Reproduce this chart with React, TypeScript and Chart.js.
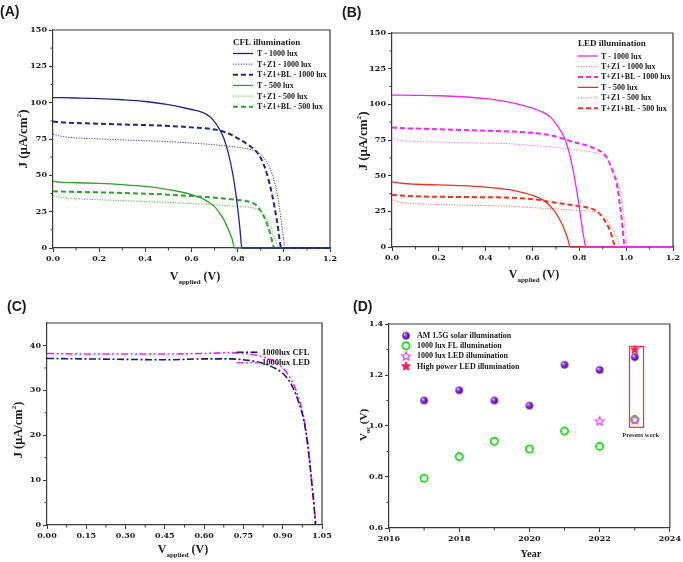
import React, { useEffect, useRef } from 'react';
import { Chart, registerables } from 'chart.js';
Chart.register(...registerables);

const SERIF = '"Liberation Serif", "Times New Roman", serif';
const TICKFONT = '"DejaVu Serif", "Liberation Serif", serif';
const SANS = '"Liberation Sans", Arial, sans-serif';
const AXIS = '#3a3a3a';
const TEXT = '#1a1a1a';

type Pt = [number, number];

// ---------- Panel A : CFL illumination (V, J) ----------
const A_T_1000: Pt[] = [[0,103.5],[0.1,103.2],[0.2,102.8],[0.3,102],[0.4,100.8],[0.5,98.6],[0.6,95.3],[0.65,93.2],[0.68,90.3],[0.7,86.8],[0.72,82],[0.74,75.5],[0.76,65],[0.78,50],[0.795,34],[0.81,13],[0.818,0],[1.2,0]];
const A_Z1_1000: Pt[] = [[0,78.5],[0.03,77],[0.1,75.8],[0.2,75],[0.3,74.4],[0.4,73.8],[0.5,73.2],[0.6,72.2],[0.7,71],[0.8,69.2],[0.86,67.5],[0.9,64.5],[0.92,60.5],[0.94,55],[0.96,45],[0.975,34],[0.99,17],[1.0,5],[1.005,0],[1.2,0]];
const A_BL_1000: Pt[] = [[0,87],[0.05,86.3],[0.1,86],[0.2,85.5],[0.3,85],[0.4,84.6],[0.5,84],[0.6,83],[0.7,81.5],[0.75,79.5],[0.8,75.5],[0.85,70.5],[0.88,66.5],[0.9,62],[0.925,52],[0.95,36],[0.97,19],[0.99,0],[1.2,0]];
const A_T_500: Pt[] = [[0,46],[0.03,45.3],[0.1,44.9],[0.2,44.4],[0.3,43.6],[0.4,42.4],[0.5,40.2],[0.55,38.7],[0.6,36.7],[0.65,33.8],[0.68,31],[0.7,28.5],[0.72,24.5],[0.74,19.5],[0.76,12.5],[0.775,6.5],[0.788,0],[1.2,0]];
const A_Z1_500: Pt[] = [[0,36],[0.03,35],[0.1,34],[0.2,33.2],[0.3,32.6],[0.4,32],[0.5,31.4],[0.6,30.6],[0.7,29.7],[0.8,28.6],[0.88,27],[0.91,23.5],[0.93,18.5],[0.95,11.5],[0.965,4.5],[0.975,0],[1.2,0]];
const A_BL_500: Pt[] = [[0,39],[0.1,38.6],[0.2,38.3],[0.3,37.9],[0.4,37.4],[0.5,36.7],[0.6,35.7],[0.7,34.6],[0.8,33.1],[0.85,31.8],[0.88,29.5],[0.9,25.5],[0.92,19.5],[0.94,10.5],[0.96,0],[1.2,0]];

// ---------- Panel B : LED illumination (V, J) ----------
const B_T_1000: Pt[] = [[0,106.5],[0.1,106.3],[0.2,106],[0.3,105.3],[0.4,104],[0.5,101.5],[0.6,97.3],[0.65,94],[0.68,90.5],[0.7,86.5],[0.72,81.5],[0.74,75],[0.76,64],[0.78,48],[0.8,28],[0.81,16],[0.822,4],[0.828,0],[1.2,0]];
const B_Z1_1000: Pt[] = [[0,76.5],[0.03,75],[0.1,74],[0.2,73.5],[0.3,73.1],[0.4,72.8],[0.5,72.4],[0.6,71.2],[0.7,69.8],[0.8,67.8],[0.88,65.5],[0.91,63],[0.93,59],[0.95,52],[0.975,38],[0.99,21],[1.0,7],[1.005,0],[1.2,0]];
const B_BL_1000: Pt[] = [[0,83.7],[0.05,83.2],[0.1,83],[0.2,82.5],[0.3,82],[0.4,81.5],[0.5,81],[0.6,80],[0.7,77.5],[0.75,74.8],[0.8,72.5],[0.85,70.2],[0.88,68],[0.9,66],[0.92,62],[0.94,54],[0.96,44],[0.98,21],[0.995,0],[1.2,0]];
const B_T_500: Pt[] = [[0,45.7],[0.05,44.5],[0.1,44],[0.2,43.5],[0.3,43],[0.4,42],[0.5,40.2],[0.55,38.5],[0.6,36.2],[0.65,32.5],[0.69,26],[0.71,21],[0.73,14.5],[0.75,6],[0.761,0],[1.2,0]];
const B_Z1_500: Pt[] = [[0,33],[0.03,31.5],[0.1,30.5],[0.2,29.8],[0.3,29.3],[0.4,29],[0.5,28.6],[0.6,27.6],[0.7,26.6],[0.8,25.5],[0.88,24],[0.91,20.5],[0.93,16],[0.95,10],[0.965,4],[0.975,0],[1.2,0]];
const B_BL_500: Pt[] = [[0,36.5],[0.1,35.5],[0.2,35.2],[0.3,35],[0.4,34.9],[0.5,34.6],[0.6,33.5],[0.7,31],[0.8,28.6],[0.85,27],[0.88,24.5],[0.9,20.5],[0.93,12],[0.957,0],[1.2,0]];

// ---------- Panel C : 1000 lux comparison (V, J) ----------
const C_CFL: Pt[] = [[0,37.1],[0.15,37],[0.3,36.9],[0.45,36.8],[0.6,37],[0.7,37],[0.75,36.8],[0.8,36.4],[0.85,35.5],[0.88,34.6],[0.9,33.8],[0.92,32.5],[0.94,30.5],[0.96,27.5],[0.98,23.5],[0.995,18],[1.01,10],[1.02,4],[1.025,0]];
const C_LED: Pt[] = [[0,38.2],[0.15,38.1],[0.3,38.1],[0.45,38.1],[0.6,38.2],[0.7,38.4],[0.75,38.2],[0.8,37.8],[0.85,36.9],[0.88,36],[0.9,35],[0.92,33.6],[0.94,31.5],[0.96,28.5],[0.98,24],[0.995,18.5],[1.01,10],[1.02,4],[1.027,0]];

// ---------- Panel D : Voc vs year ----------
const D_SOLAR_YEARS = [2017, 2018, 2019, 2020, 2021, 2022, 2023];
const D_SOLAR = [1.10, 1.14, 1.10, 1.08, 1.24, 1.22, 1.27];
const D_FL_YEARS = [2017, 2018, 2019, 2020, 2021, 2022, 2023];
const D_FL = [0.795, 0.88, 0.94, 0.91, 0.98, 0.92, 1.025];
const D_LED_YEARS = [2022, 2023];
const D_LED = [1.02, 1.025];
const D_HP_YEARS = [2023];
const D_HP = [1.30];
const D_BOX = { x0: 2022.85, x1: 2023.25, y0: 0.995, y1: 1.312 };
const D_NOTE = { x: 2023.17, y: 0.963, text: 'Present work' };

// ---------- tick lists ----------
const AB_X_TICKS = [0, 0.2, 0.4, 0.6, 0.8, 1.0, 1.2];
const AB_X_MINOR = [0.1, 0.3, 0.5, 0.7, 0.9, 1.1];
const AB_Y_TICKS = [0, 25, 50, 75, 100, 125, 150];
const AB_Y_MINOR = [12.5, 37.5, 62.5, 87.5, 112.5, 137.5];
const C_X_TICKS = [0, 0.15, 0.3, 0.45, 0.6, 0.75, 0.9, 1.05];
const C_X_MINOR = [0.075, 0.225, 0.375, 0.525, 0.675, 0.825, 0.975];
const C_Y_TICKS = [0, 10, 20, 30, 40];
const C_Y_MINOR = [5, 15, 25, 35];
const D_X_TICKS = [2016, 2018, 2020, 2022, 2024];
const D_X_MINOR = [2017, 2019, 2021, 2023];
const D_Y_TICKS = [0.6, 0.8, 1.0, 1.2, 1.4];
const D_Y_MINOR = [0.7, 0.9, 1.1, 1.3];

type Part = { t: string; s: number; dy?: number };

function drawParts(ctx: CanvasRenderingContext2D, parts: Part[], cx: number, y: number) {
  let total = 0;
  const widths = parts.map((p) => {
    ctx.font = `bold ${p.s}px ${SERIF}`;
    const w = ctx.measureText(p.t).width;
    total += w;
    return w;
  });
  let x = cx - total / 2;
  ctx.textAlign = 'left';
  ctx.textBaseline = 'alphabetic';
  parts.forEach((p, i) => {
    ctx.font = `bold ${p.s}px ${SERIF}`;
    ctx.fillText(p.t, x, y + (p.dy || 0));
    x += widths[i];
  });
}

interface Decor {
  label: string; labelX: number; labelY: number;
  xTitle: Part[]; xTitleX: number; xTitleY: number;
  yTitle: Part[]; yTitleX: number; yTitleY: number;
  xMinor: number[]; yMinor: number[];
  legend: (ctx: CanvasRenderingContext2D, chart: any) => void;
  extra?: (ctx: CanvasRenderingContext2D, chart: any) => void;
}

function decorPlugin(d: Decor) {
  return {
    id: 'decor',
    afterDraw(chart: any) {
      const ctx: CanvasRenderingContext2D = chart.ctx;
      const { left, right, top, bottom } = chart.chartArea;
      const xs = chart.scales.x, ys = chart.scales.y;
      ctx.save();
      ctx.strokeStyle = AXIS; ctx.lineWidth = 1.2; ctx.setLineDash([]);
      ctx.beginPath();
      ctx.moveTo(left, top); ctx.lineTo(right, top); ctx.lineTo(right, bottom);
      ctx.stroke();
      ctx.lineWidth = 1;
      ctx.beginPath();
      d.xMinor.forEach((v) => { const px = xs.getPixelForValue(v); ctx.moveTo(px, bottom); ctx.lineTo(px, bottom + 2.5); });
      d.yMinor.forEach((v) => { const py = ys.getPixelForValue(v); ctx.moveTo(left, py); ctx.lineTo(left - 2.5, py); });
      ctx.stroke();
      if (d.extra) d.extra(ctx, chart);
      ctx.fillStyle = TEXT;
      ctx.font = `bold 14px ${SANS}`;
      ctx.textAlign = 'left'; ctx.textBaseline = 'middle';
      ctx.fillText(d.label, d.labelX, d.labelY);
      drawParts(ctx, d.xTitle, d.xTitleX, d.xTitleY);
      ctx.save();
      ctx.translate(d.yTitleX, d.yTitleY);
      ctx.rotate(-Math.PI / 2);
      drawParts(ctx, d.yTitle, 0, 0);
      ctx.restore();
      d.legend(ctx, chart);
      ctx.restore();
    },
  };
}

function lineLegend(opt: { title?: string; titleY?: number; x0: number; x1: number; tx: number; y0: number; dy: number; size: number; titleSize?: number }) {
  return (ctx: CanvasRenderingContext2D, chart: any) => {
    if (opt.title) {
      ctx.fillStyle = TEXT;
      ctx.font = `bold ${opt.titleSize || 9}px ${SERIF}`;
      ctx.textAlign = 'left'; ctx.textBaseline = 'middle';
      ctx.fillText(opt.title, opt.x0, opt.titleY!);
    }
    chart.data.datasets.forEach((ds: any, i: number) => {
      const y = opt.y0 + i * opt.dy;
      ctx.strokeStyle = ds.borderColor;
      ctx.lineWidth = ds.borderWidth;
      ctx.setLineDash(ds.borderDash || []);
      ctx.beginPath(); ctx.moveTo(opt.x0, y); ctx.lineTo(opt.x1, y); ctx.stroke();
      ctx.setLineDash([]);
      ctx.fillStyle = TEXT;
      ctx.font = `bold ${opt.size}px ${SERIF}`;
      ctx.textAlign = 'left'; ctx.textBaseline = 'middle';
      ctx.fillText(ds.label, opt.tx, y + 0.5);
    });
  };
}

function axis(dir: 'x' | 'y', min: number, max: number, ticks: number[], fmt: (v: number) => string, size: number) {
  return {
    type: 'linear',
    min, max,
    afterBuildTicks: (s: any) => { s.ticks = ticks.map((v) => ({ value: v })); },
    afterFit: (s: any) => { if (dir === 'x') s.height = size; else s.width = size; },
    ticks: { callback: (v: any) => fmt(Number(v)), font: { family: TICKFONT, size: 8, weight: 'bold' }, color: TEXT, padding: 2, maxRotation: 0, autoSkip: false },
    grid: { drawOnChartArea: false, drawTicks: true, tickLength: 4, color: AXIS, lineWidth: 1 },
    border: { display: true, color: AXIS, width: 1.2 },
  };
}

function series(label: string, pts: Pt[], color: string, kind: 'solid' | 'dot' | 'dash' | 'dashdot' | 'dashdotdot') {
  const style: any = {
    solid: { borderWidth: 1.3, borderDash: [] },
    dot: { borderWidth: 1, borderDash: [1.3, 1.3] },
    dash: { borderWidth: 2, borderDash: [5, 3] },
    dashdot: { borderWidth: 1.6, borderDash: [7, 2.5, 2, 2.5] },
    dashdotdot: { borderWidth: 1.6, borderDash: [7, 2.5, 2, 2.5, 2, 2.5] },
  }[kind];
  return {
    label,
    data: pts.map(([x, y]) => ({ x, y })),
    borderColor: color,
    backgroundColor: color,
    ...style,
    pointRadius: 0,
    fill: false,
    cubicInterpolationMode: 'monotone',
    clip: 4,
  };
}

interface Geo { W: number; H: number; L: number; T: number; R: number; B: number }

function baseOptions(g: Geo, scales: any) {
  return {
    responsive: false,
    maintainAspectRatio: false,
    animation: false,
    devicePixelRatio: 1,
    layout: { padding: { left: 0, top: g.T, right: g.W - g.R, bottom: 0 } },
    plugins: { legend: { display: false }, tooltip: { enabled: false }, title: { display: false } },
    scales,
  };
}

const f1 = (v: number) => v.toFixed(1);
const f2 = (v: number) => v.toFixed(2);
const f0 = (v: number) => String(Math.round(v));

const J_TITLE = (s: number): Part[] => [
  { t: 'J (μA/cm', s },
  { t: '2', s: s * 0.55, dy: -s * 0.45 },
  { t: ')', s },
];
const V_TITLE = (s: number): Part[] => [
  { t: 'V', s },
  { t: 'applied', s: s * 0.58, dy: s * 0.3 },
  { t: ' (V)', s },
];

function buildA() {
  const g: Geo = { W: 341, H: 290, L: 53, T: 30, R: 330, B: 248 };
  const NAVY = '#23238f', NAVY_L = '#4848b0', GREEN = '#2f9f2f', GREEN_L = '#4fc94f';
  return {
    type: 'line',
    data: {
      datasets: [
        series('T - 1000 lux', A_T_1000, NAVY, 'solid'),
        series('T+Z1 - 1000 lux', A_Z1_1000, NAVY_L, 'dot'),
        series('T+Z1+BL - 1000 lux', A_BL_1000, NAVY, 'dash'),
        series('T - 500 lux', A_T_500, GREEN, 'solid'),
        series('T+Z1 - 500 lux', A_Z1_500, GREEN_L, 'dot'),
        series('T+Z1+BL - 500 lux', A_BL_500, GREEN, 'dash'),
      ],
    },
    options: baseOptions(g, {
      x: axis('x', 0, 1.2, AB_X_TICKS, f1, g.H - g.B),
      y: axis('y', 0, 150, AB_Y_TICKS, f0, g.L),
    }),
    plugins: [decorPlugin({
      label: '(A)', labelX: 0, labelY: 12,
      xTitle: V_TITLE(12), xTitleX: 195, xTitleY: 280,
      yTitle: J_TITLE(13), yTitleX: 27, yTitleY: 139,
      xMinor: AB_X_MINOR, yMinor: AB_Y_MINOR,
      legend: lineLegend({ title: 'CFL illumination', titleY: 43, x0: 233, x1: 253, tx: 257, y0: 53.5, dy: 10.65, size: 8 }),
    })],
  };
}

function buildB() {
  const g: Geo = { W: 342, H: 290, L: 51, T: 33, R: 332, B: 247 };
  const MAG = '#ee2aee', MAG_L = '#f27cf2', RED = '#ee3322', RED_L = '#f27e6e';
  return {
    type: 'line',
    data: {
      datasets: [
        series('T - 1000 lux', B_T_1000, MAG, 'solid'),
        series('T+Z1 - 1000 lux', B_Z1_1000, MAG_L, 'dot'),
        series('T+Z1+BL - 1000 lux', B_BL_1000, MAG, 'dash'),
        series('T - 500 lux', B_T_500, RED, 'solid'),
        series('T+Z1 - 500 lux', B_Z1_500, RED_L, 'dot'),
        series('T+Z1+BL - 500 lux', B_BL_500, RED, 'dash'),
      ],
    },
    options: baseOptions(g, {
      x: axis('x', 0, 1.2, AB_X_TICKS, f1, g.H - g.B),
      y: axis('y', 0, 150, AB_Y_TICKS, f0, g.L),
    }),
    plugins: [decorPlugin({
      label: '(B)', labelX: 1, labelY: 13,
      xTitle: V_TITLE(12), xTitleX: 193, xTitleY: 278,
      yTitle: J_TITLE(13), yTitleX: 26, yTitleY: 141,
      xMinor: AB_X_MINOR, yMinor: AB_Y_MINOR,
      legend: lineLegend({ title: 'LED illumination', titleY: 44, x0: 237, x1: 257, tx: 260, y0: 56, dy: 10.45, size: 8 }),
    })],
  };
}

function buildC() {
  const g: Geo = { W: 341, H: 272, L: 47, T: 33, R: 322, B: 235 };
  return {
    type: 'line',
    data: {
      datasets: [
        series('1000lux CFL', C_CFL, '#17177d', 'dashdot'),
        series('1000lux LED', C_LED, '#ff22ff', 'dashdotdot'),
      ],
    },
    options: baseOptions(g, {
      x: axis('x', 0, 1.05, C_X_TICKS, f2, g.H - g.B),
      y: axis('y', 0, 45, C_Y_TICKS, f0, g.L),
    }),
    plugins: [decorPlugin({
      label: '(C)', labelX: 7, labelY: 17,
      xTitle: V_TITLE(12), xTitleX: 183, xTitleY: 263,
      yTitle: J_TITLE(12.5), yTitleX: 22, yTitleY: 140,
      xMinor: C_X_MINOR, yMinor: C_Y_MINOR,
      legend: lineLegend({ x0: 236.5, x1: 258.5, tx: 262, y0: 62.3, dy: 10.4, size: 8.5 }),
    })],
  };
}

function starImg(fill: string | null, stroke: string, r: number, lw: number) {
  const size = Math.ceil(r * 2 + lw * 2 + 2);
  const c = document.createElement('canvas');
  c.width = size; c.height = size;
  const g = c.getContext('2d')!;
  const cx = size / 2, cy = size / 2 + 0.4;
  g.beginPath();
  for (let i = 0; i < 10; i++) {
    const a = -Math.PI / 2 + (i * Math.PI) / 5;
    const rr = i % 2 === 0 ? r : r * 0.45;
    g.lineTo(cx + rr * Math.cos(a), cy + rr * Math.sin(a));
  }
  g.closePath();
  if (fill) { g.fillStyle = fill; g.fill(); }
  g.strokeStyle = stroke; g.lineWidth = lw; g.stroke();
  return c;
}

function sphereImg(r: number) {
  const size = Math.ceil(r * 2 + 2);
  const c = document.createElement('canvas');
  c.width = size; c.height = size;
  const g = c.getContext('2d')!;
  const cx = size / 2, cy = size / 2;
  const grad = g.createRadialGradient(cx - r * 0.4, cy - r * 0.4, 0.2, cx, cy, r * 1.05);
  grad.addColorStop(0, '#f6ecff');
  grad.addColorStop(0.25, '#a95ef0');
  grad.addColorStop(0.65, '#7414cc');
  grad.addColorStop(1, '#43087f');
  g.beginPath(); g.arc(cx, cy, r, 0, Math.PI * 2); g.fillStyle = grad; g.fill();
  return c;
}

function buildD() {
  const g: Geo = { W: 342, H: 272, L: 48, T: 34, R: 329, B: 238 };
  const sphere = sphereImg(3.8);
  const openStar = starImg(null, '#ee44ee', 4.6, 1.2);
  const redStar = starImg('#ee2255', '#ee2255', 4.6, 1);
  const GREEN = '#22e022';
  const pts = (xs: number[], ys: number[]) => xs.map((x, i) => ({ x, y: ys[i] }));
  const datasets = [
    { label: 'AM 1.5G solar illumination', data: pts(D_SOLAR_YEARS, D_SOLAR), pointStyle: sphere, pointRadius: 4, order: 2, borderColor: '#7414cc', backgroundColor: '#7414cc' },
    { label: '1000 lux FL illumination', data: pts(D_FL_YEARS, D_FL), pointStyle: 'circle', pointRadius: 3.6, pointBorderWidth: 1.9, borderColor: GREEN, backgroundColor: 'rgba(0,0,0,0)', order: 3 },
    { label: '1000 lux LED illumination', data: pts(D_LED_YEARS, D_LED), pointStyle: openStar, pointRadius: 4, order: 1, borderColor: '#ee44ee', backgroundColor: '#ee44ee' },
    { label: 'High power LED illumination', data: pts(D_HP_YEARS, D_HP), pointStyle: redStar, pointRadius: 4, order: 0, borderColor: '#ee2255', backgroundColor: '#ee2255' },
  ];
  const legend = (ctx: CanvasRenderingContext2D) => {
    const mx = 65, tx = 76, y0 = 45.7, dy = 10.1;
    datasets.forEach((ds: any, i: number) => {
      const y = y0 + i * dy;
      if (ds.pointStyle === 'circle') {
        ctx.strokeStyle = GREEN; ctx.lineWidth = 1.9;
        ctx.beginPath(); ctx.arc(mx, y, 3.6, 0, Math.PI * 2); ctx.stroke();
      } else {
        const im = ds.pointStyle as HTMLCanvasElement;
        ctx.drawImage(im, mx - im.width / 2, y - im.height / 2);
      }
      ctx.fillStyle = TEXT;
      ctx.font = `bold 8px ${SERIF}`;
      ctx.textAlign = 'left'; ctx.textBaseline = 'middle';
      ctx.fillText(ds.label, tx, y + 0.5);
    });
  };
  const extra = (ctx: CanvasRenderingContext2D, chart: any) => {
    const xs = chart.scales.x, ys = chart.scales.y;
    const x0 = xs.getPixelForValue(D_BOX.x0), x1 = xs.getPixelForValue(D_BOX.x1);
    const y0 = ys.getPixelForValue(D_BOX.y1), y1 = ys.getPixelForValue(D_BOX.y0);
    ctx.strokeStyle = '#ee3333'; ctx.lineWidth = 1.2; ctx.setLineDash([]);
    ctx.strokeRect(x0, y0, x1 - x0, y1 - y0);
    ctx.fillStyle = '#333';
    ctx.font = `bold 6.5px ${SERIF}`;
    ctx.textAlign = 'center'; ctx.textBaseline = 'middle';
    ctx.fillText(D_NOTE.text, xs.getPixelForValue(D_NOTE.x), ys.getPixelForValue(D_NOTE.y));
  };
  return {
    type: 'scatter',
    data: { datasets },
    options: baseOptions(g, {
      x: axis('x', 2016, 2024, D_X_TICKS, f0, g.H - g.B),
      y: axis('y', 0.6, 1.4, D_Y_TICKS, f1, g.L),
    }),
    plugins: [decorPlugin({
      label: '(D)', labelX: 12, labelY: 17,
      xTitle: [{ t: 'Year', s: 10.5 }], xTitleX: 190, xTitleY: 267,
      yTitle: [{ t: 'V', s: 11 }, { t: 'oc', s: 6.5, dy: 3 }, { t: ' (V)', s: 11 }], yTitleX: 26, yTitleY: 135,
      xMinor: D_X_MINOR, yMinor: D_Y_MINOR,
      legend, extra,
    })],
  };
}

function Panel({ left, top, width, height, build }: { left: number; top: number; width: number; height: number; build: () => any }) {
  const ref = useRef<HTMLCanvasElement>(null);
  useEffect(() => {
    const chart = new Chart(ref.current as HTMLCanvasElement, build());
    return () => chart.destroy();
  }, []);
  return (
    <canvas
      ref={ref}
      width={width}
      height={height}
      style={{ position: 'absolute', left, top, width, height }}
    />
  );
}

export default function App() {
  return (
    <div style={{ position: 'absolute', left: 0, top: 0, width: 683, height: 562, background: '#fff', overflow: 'hidden' }}>
      <Panel left={0} top={0} width={341} height={290} build={buildA} />
      <Panel left={341} top={0} width={342} height={290} build={buildB} />
      <Panel left={0} top={290} width={341} height={272} build={buildC} />
      <Panel left={341} top={290} width={342} height={272} build={buildD} />
    </div>
  );
}
